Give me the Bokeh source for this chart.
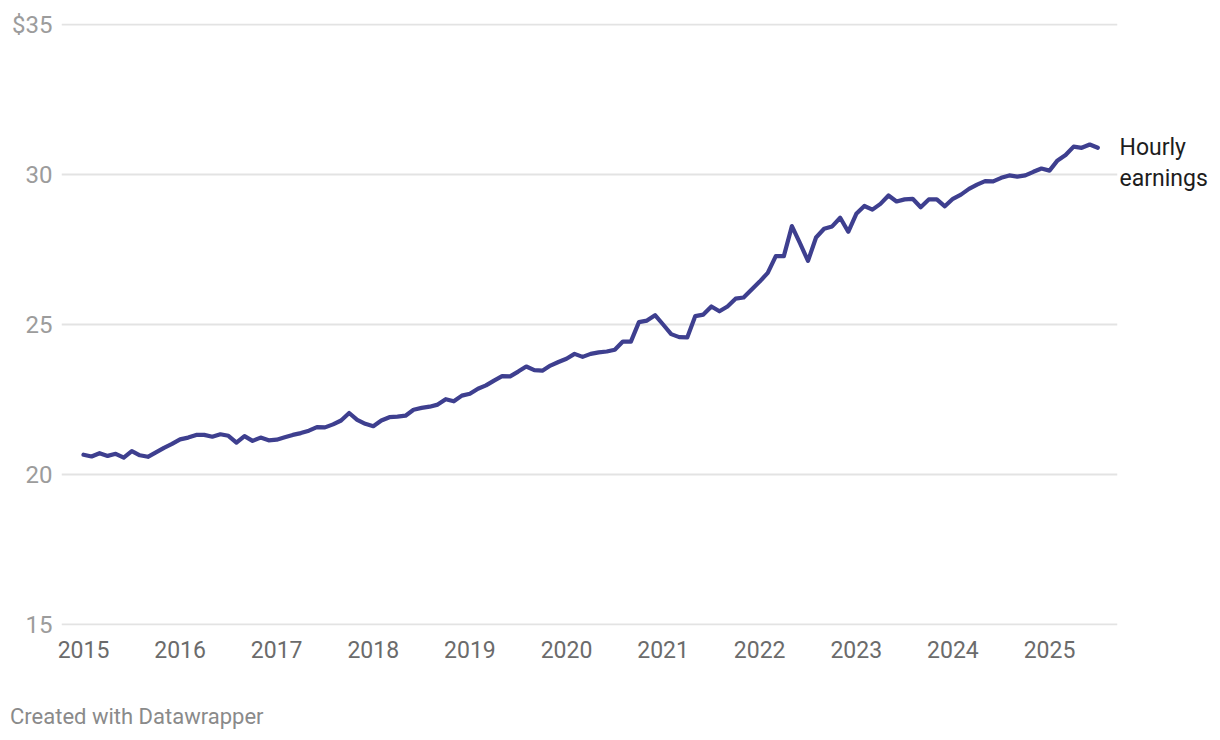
import pandas as pd
from bokeh.plotting import figure
from bokeh.models import FixedTicker, Range1d, LinearAxis, Div
from bokeh.layouts import column
from bokeh.embed import file_html
from bokeh.resources import INLINE

# ---- data ----
start_month = "2015-01-01"
earnings = [
    # 2015
    20.66, 20.60, 20.71, 20.62, 20.69, 20.56, 20.78, 20.64, 20.59, 20.74, 20.89, 21.02,
    # 2016
    21.17, 21.23, 21.32, 21.32, 21.26, 21.34, 21.29, 21.06, 21.28, 21.12, 21.23, 21.14,
    # 2017
    21.16, 21.24, 21.32, 21.38, 21.46, 21.58, 21.57, 21.67, 21.80, 22.05, 21.82, 21.69,
    # 2018
    21.61, 21.80, 21.91, 21.93, 21.96, 22.16, 22.22, 22.26, 22.33, 22.51, 22.44, 22.63,
    # 2019
    22.69, 22.86, 22.97, 23.13, 23.28, 23.27, 23.43, 23.60, 23.48, 23.46, 23.63, 23.75,
    # 2020
    23.86, 24.02, 23.92, 24.02, 24.07, 24.10, 24.16, 24.43, 24.43, 25.08, 25.13, 25.31,
    # 2021
    25.00, 24.68, 24.58, 24.57, 25.28, 25.33, 25.60, 25.44, 25.60, 25.86, 25.90, 26.17,
    # 2022
    26.43, 26.72, 27.28, 27.28, 28.28, 27.71, 27.12, 27.90, 28.19, 28.27, 28.56, 28.09,
    # 2023
    28.69, 28.95, 28.83, 29.02, 29.30, 29.10, 29.17, 29.19, 28.91, 29.17, 29.17, 28.94,
    # 2024
    29.19, 29.33, 29.52, 29.66, 29.78, 29.77, 29.89, 29.97, 29.93, 29.97, 30.09, 30.20,
    # 2025
    30.13, 30.47, 30.65, 30.93, 30.89, 31.00, 30.89,
]
year_ticks = [2015, 2016, 2017, 2018, 2019, 2020, 2021, 2022, 2023, 2024, 2025]
y_ticks = [15, 20, 25, 30, 35]
y_labels = {15: "15", 20: "20", 25: "25", 30: "30", 35: "$35"}
series_label = "Hourly\nearnings"
credit = "Created with Datawrapper"

dates = pd.date_range(start_month, periods=len(earnings), freq="MS")
xs = [d.year + (d.month - 1) / 12 for d in dates]

FONT = "Roboto"
LINE = "#3e3f8f"

# y range padded by one pixel so the 15 and 35 grid lines are drawn
p = figure(width=1220, height=690, output_backend="svg", toolbar_location=None,
           x_range=Range1d(2014.7723, 2025.7039),
           y_range=Range1d(15 - 1 / 30, 35 + 1 / 30),
           min_border_left=61, min_border_right=103, min_border_top=23,
           min_border_bottom=65)
p.outline_line_color = None
p.background_fill_color = "white"
p.border_fill_color = "white"

p.line(xs, earnings, line_color=LINE, line_width=4.2, line_join="round", line_cap="round")


def plain(axis):
    axis.axis_line_color = None
    axis.major_tick_line_color = None
    axis.minor_tick_line_color = None
    axis.major_tick_out = 0
    axis.major_tick_in = 0
    axis.minor_tick_out = 0
    axis.minor_tick_in = 0
    axis.major_label_text_font = FONT


# axes
p.xaxis.ticker = FixedTicker(ticks=year_ticks)
p.xaxis.major_label_overrides = {y: str(y) for y in year_ticks}
plain(p.xaxis[0])
p.xaxis.major_label_standoff = 15
p.xaxis.major_label_text_font_size = "23px"
p.xaxis.major_label_text_color = "#6b6b6b"

p.yaxis.ticker = FixedTicker(ticks=y_ticks)
p.yaxis.major_label_overrides = y_labels
plain(p.yaxis[0])
p.yaxis.major_label_standoff = 9
p.yaxis.major_label_text_font_size = "24px"
p.yaxis.major_label_text_color = "#9c9c9c"

p.xgrid.grid_line_color = None
p.ygrid.grid_line_color = "#e3e3e3"
p.ygrid.grid_line_width = 2

# series label at the line's end, as a right-hand axis label
label_at = earnings[-1] - 0.5
right = LinearAxis(ticker=FixedTicker(ticks=[label_at]),
                   major_label_overrides={label_at: series_label})
plain(right)
right.major_label_standoff = 2
right.major_label_text_font_size = "23px"
right.major_label_text_color = "#1d1d1d"
right.major_label_text_align = "left"
right.major_label_text_line_height = 1.15
p.add_layout(right, "right")

div = Div(text=credit, width=1220, height=50, margin=(0, 0, 0, 0),
          styles={"font-family": "Roboto", "font-size": "22px", "color": "#8a8a8a",
                  "padding-top": "15px", "padding-left": "10px", "line-height": "24px"})

layout = column(p, div, spacing=0)
open("out.html", "w").write(file_html(layout, INLINE))
